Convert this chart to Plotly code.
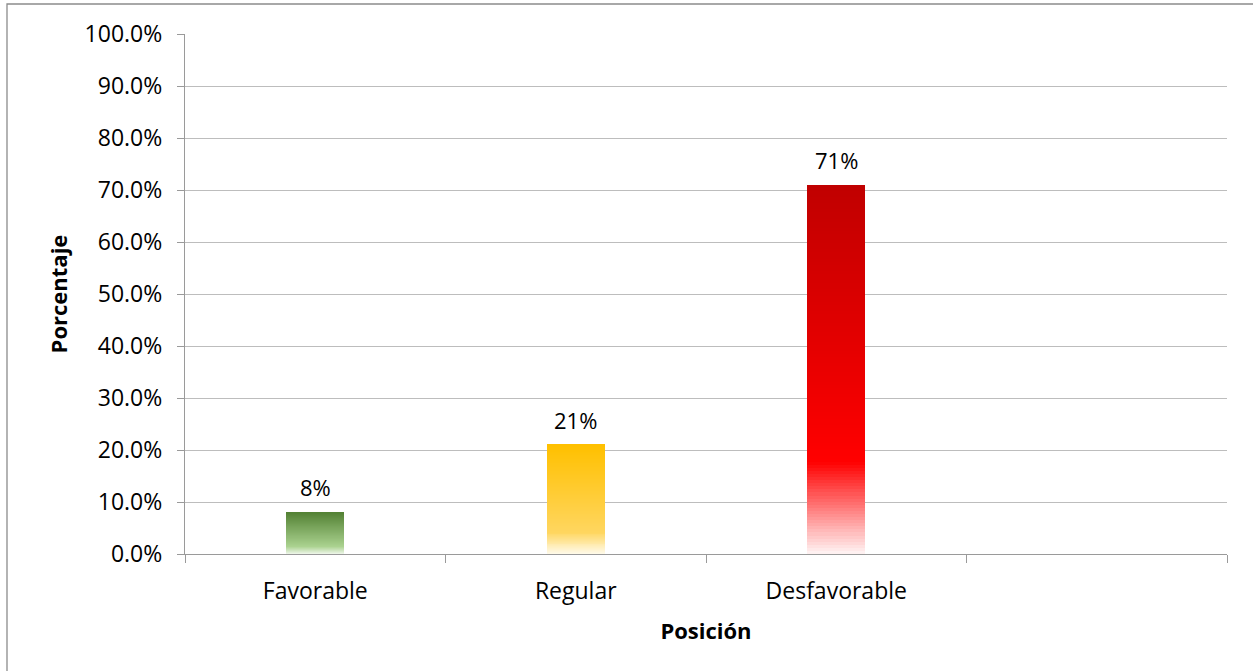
import plotly.graph_objects as go

# Chart data
categories = ["Favorable", "Regular", "Desfavorable", " "]
values = [0.08, 0.21, 0.71]
bar_labels = ["8%", "21%", "71%"]

# Vertical gradient stops per bar: (fraction of bar height from the bottom, rgb)
gradients = [
    [(0.0, (242, 248, 238)), (0.2, (169, 209, 142)), (1.0, (84, 130, 53))],
    [(0.0, (255, 252, 240)), (0.2, (255, 214, 95)), (1.0, (255, 192, 0))],
    [(0.0, (255, 245, 245)), (0.25, (255, 0, 0)), (1.0, (192, 0, 0))],
]


def color_at(stops, t):
    for (t0, c0), (t1, c1) in zip(stops, stops[1:]):
        if t <= t1:
            f = (t - t0) / (t1 - t0) if t1 > t0 else 0
            rgb = [round(a + (b - a) * f) for a, b in zip(c0, c1)]
            return "rgb({},{},{})".format(*rgb)
    return "rgb({},{},{})".format(*stops[-1][1])


N_SEG = 120
fig = go.Figure()

# Each bar is built from thin stacked slices so it can carry a vertical gradient
for k in range(N_SEG):
    bases, heights, colors = [], [], []
    for v, stops in zip(values, gradients):
        b = v * k / N_SEG
        top = min(v * (k + 1.6) / N_SEG, v)
        bases.append(b)
        heights.append(top - b)
        colors.append(color_at(stops, (k + 0.5) / N_SEG))
    fig.add_trace(go.Bar(
        x=categories[:len(values)], y=heights, base=bases,
        marker=dict(color=colors, line=dict(width=0)),
        width=0.223, showlegend=False, hoverinfo="skip",
    ))

# Value labels above the bars
for cat, v, lab in zip(categories, values, bar_labels):
    fig.add_annotation(
        x=cat, y=v, text=lab, showarrow=False, yanchor="bottom", yshift=8,
        font=dict(family="Open Sans", size=22, color="#000000"),
    )

plot_l, plot_r, plot_t, plot_b = 185, 26, 34, 117
W, H = 1253, 671
pw, ph = W - plot_l - plot_r, H - plot_t - plot_b

# Outer chart frame (left and top edges visible)
fig.add_shape(
    type="rect", xref="paper", yref="paper",
    x0=(7 - plot_l) / pw, x1=(W + 10 - plot_l) / pw,
    y0=-(H + 10 - plot_t - ph) / ph, y1=1 + (plot_t - 4) / ph,
    line=dict(color="#8c8c8c", width=1.3), fillcolor="rgba(0,0,0,0)", layer="below",
)

tick_font = dict(family="Open Sans", size=23, color="#000000")
title_font = dict(family="Open Sans", size=22, color="#000000", weight="bold")

fig.update_layout(
    template="none",
    width=W, height=H,
    margin=dict(l=plot_l, r=plot_r, t=plot_t, b=plot_b, autoexpand=False),
    paper_bgcolor="white", plot_bgcolor="white",
    barmode="overlay", bargap=0,
    showlegend=False,
    xaxis=dict(
        type="category", categoryorder="array", categoryarray=categories,
        range=[-0.5, 3.5], tickson="boundaries",
        ticks="outside", ticklen=8, tickcolor="#9a9a9a", tickwidth=1.3,
        showline=True, linecolor="#9a9a9a", linewidth=1.3,
        showgrid=False, zeroline=False,
        tickfont=tick_font, ticklabelstandoff=16,
        title=dict(text="Posición", font=title_font, standoff=18),
        automargin=False, fixedrange=True,
    ),
    yaxis=dict(
        range=[0, 1], tickvals=[i / 10 for i in range(11)], tickformat=".1%",
        ticks="outside", ticklen=7, tickcolor="#9a9a9a", tickwidth=1.3,
        showline=True, linecolor="#9a9a9a", linewidth=1.3,
        showgrid=True, gridcolor="#bdbdbd", gridwidth=1.3,
        zeroline=False,
        tickfont=tick_font, ticklabelstandoff=10,
        title=dict(text="Porcentaje", font=title_font, standoff=10),
        automargin=False, fixedrange=True,
    ),
)

fig.write_html("out.html")
